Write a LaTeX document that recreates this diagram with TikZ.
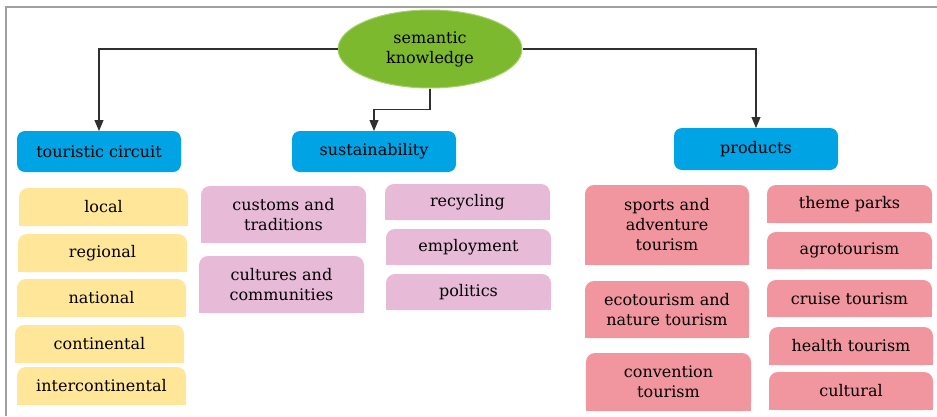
\documentclass[tikz,border=0pt]{standalone}
\usepackage{fontspec}
\setmainfont{DejaVu Serif}
\usetikzlibrary{shapes.geometric,arrows.meta,backgrounds}
\definecolor{cblue}{HTML}{00A3E4}
\definecolor{cyel}{HTML}{FFE699}
\definecolor{clil}{HTML}{E7BAD8}
\definecolor{cred}{HTML}{F1959F}
\definecolor{cgreen}{HTML}{7DB92F}
\definecolor{cgreenb}{HTML}{A5D06A}
\definecolor{cframe}{HTML}{A0A0A0}
\definecolor{cline}{HTML}{303030}
\newcommand\mybox[7]{%
  \pgfmathsetmacro\bw{#4-#2}\pgfmathsetmacro\bh{#5-#3}%
  \pgfmathsetmacro\bcx{(#2+#4)/2}\pgfmathsetmacro\bcy{(#3+#5)/2}%
  \node[txt, minimum width=\bw pt, minimum height=\bh pt] (#1) at (\bcx,\bcy) {#7};
  \begin{pgfonlayer}{background}
    \fill[#6, rounded corners=9pt] (#1.north west) rectangle (#1.south east);
    \fill[#6] (#1.south west) rectangle (#1.east);
  \end{pgfonlayer}}
\newcommand\mytop[6]{%
  \pgfmathsetmacro\bw{#4-#2}\pgfmathsetmacro\bh{#5-#3}%
  \pgfmathsetmacro\bcx{(#2+#4)/2}\pgfmathsetmacro\bcy{(#3+#5)/2}%
  \node[txt, fill=cblue, rounded corners=8pt, minimum width=\bw pt, minimum height=\bh pt] (#1) at (\bcx,\bcy) {#6};}
\begin{document}
\begin{tikzpicture}[x=1pt,y=-1pt,
  txt/.style={inner sep=0pt, outer sep=0pt, align=center, text=black,
    font=\fontsize{16}{20}\selectfont},
  conn/.style={draw=cline, line width=1.1pt, -{Stealth[length=11pt,width=9pt,inset=0pt]}}]
\useasboundingbox (0,0) rectangle (937,416);
\draw[cframe, line width=1.3pt] (6,416) -- (6,7) -- (937,7);
% root
\node[ellipse, fill=cgreen, draw=cgreenb, line width=1pt, minimum width=184pt, minimum height=78pt,
  inner sep=0pt, align=center, text=black, font=\fontsize{16}{20}\selectfont] (sk) at (430,49) {semantic\\knowledge};
% categories
\mytop{tc}{17}{131}{181}{172}{touristic circuit}
\mytop{su}{292}{131}{456}{172}{sustainability}
\mytop{pr}{674}{128}{838}{170}{products}
% touristic circuit
\mybox{local}{19}{188}{188}{226}{cyel}{local}
\mybox{regional}{18}{234}{187}{272}{cyel}{regional}
\mybox{national}{17}{279}{186}{317}{cyel}{national}
\mybox{continental}{15}{325}{184}{363}{cyel}{continental}
\mybox{intercont}{17}{367}{186}{405}{cyel}{intercontinental}
% sustainability
\mybox{customs}{201}{186}{366}{243}{clil}{customs and\\traditions}
\mybox{cultures}{199}{256}{364}{313}{clil}{cultures and\\communities}
\mybox{recycling}{385}{184}{550}{220}{clil}{recycling}
\mybox{employment}{386}{229}{551}{265}{clil}{employment}
\mybox{politics}{386}{274}{551}{310}{clil}{politics}
% products
\mybox{sports}{585}{185}{749}{265}{cred}{sports and\\adventure\\tourism}
\mybox{eco}{585}{281}{749}{338}{cred}{ecotourism and\\nature tourism}
\mybox{convention}{586}{353}{751}{411}{cred}{convention\\tourism}
\mybox{theme}{767}{185}{932}{223}{cred}{theme parks}
\mybox{agro}{767}{232}{932}{269}{cred}{agrotourism}
\mybox{cruise}{767}{280}{932}{317}{cred}{cruise tourism}
\mybox{health}{769}{327}{933}{365}{cred}{health tourism}
\mybox{cultural}{769}{372}{933}{410}{cred}{cultural}
% connectors
\draw[conn] (sk.west) -| (tc.north);
\draw[conn] (sk.east) -| (pr.north);
\draw[conn] (sk.south) -- ++(0,21) -| (su.north);
\end{tikzpicture}
\end{document}
